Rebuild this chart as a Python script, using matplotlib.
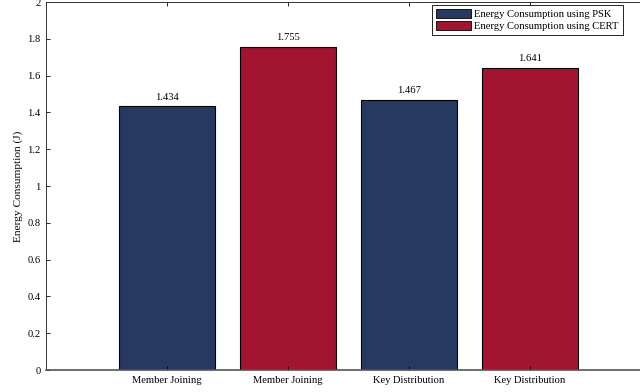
import numpy as np
import matplotlib.pyplot as plt

plt.rcParams['font.family'] = ['Liberation Serif', 'DejaVu Serif']

categories = ['Member Joining', 'Member Joining', 'Key Distribution', 'Key Distribution']
energy = [1.434, 1.755, 1.467, 1.641]
schemes = ['PSK', 'CERT', 'PSK', 'CERT']
colors = {'PSK': '#253961', 'CERT': '#a21430'}

fig = plt.figure(figsize=(6.4, 3.92), dpi=100)
ax = fig.add_axes([46 / 640, 22 / 392, 605 / 640, 368 / 392])

x = np.arange(1, len(energy) + 1)
bars = ax.bar(x, energy, width=0.8, color=[colors[s] for s in schemes],
              edgecolor='black', linewidth=0.8)

for xi, v in zip(x, energy):
    ax.text(xi, v + 0.025, f'{v:.3f}', ha='center', va='bottom', fontsize=7.6)

ax.set_xlim(0, 5)
ax.set_ylim(0, 2)
ax.set_xticks(x)
ax.set_xticklabels(categories)
ax.set_yticks(np.arange(0, 2.01, 0.2))
ax.set_yticklabels(['0', '0.2', '0.4', '0.6', '0.8', '1', '1.2', '1.4', '1.6', '1.8', '2'])
ax.tick_params(direction='in', top=True, right=True, labelsize=7.6, length=3, width=0.6, pad=4)
ax.set_ylabel('Energy Consumption (J)', fontsize=8.2, labelpad=3)
for sp in ax.spines.values():
    sp.set_linewidth(0.7)
    sp.set_color('#333333')
ax.spines['bottom'].set_linewidth(1.2)
ax.spines['bottom'].set_color('#555555')

handles = [plt.Rectangle((0, 0), 1, 1, facecolor=colors['PSK'], edgecolor='black', linewidth=0.6),
           plt.Rectangle((0, 0), 1, 1, facecolor=colors['CERT'], edgecolor='black', linewidth=0.6)]
leg = ax.legend(handles, ['Energy Consumption using PSK', 'Energy Consumption using CERT'],
                loc='upper left', bbox_to_anchor=(386 / 605, 0.992), fontsize=7.6,
                fancybox=False, edgecolor='black', framealpha=1, handlelength=3.3,
                handleheight=0.85, borderpad=0.4, labelspacing=0.2, handletextpad=0.3,
                borderaxespad=0)
leg.get_frame().set_linewidth(0.6)

fig.savefig('out.png', dpi=100)
